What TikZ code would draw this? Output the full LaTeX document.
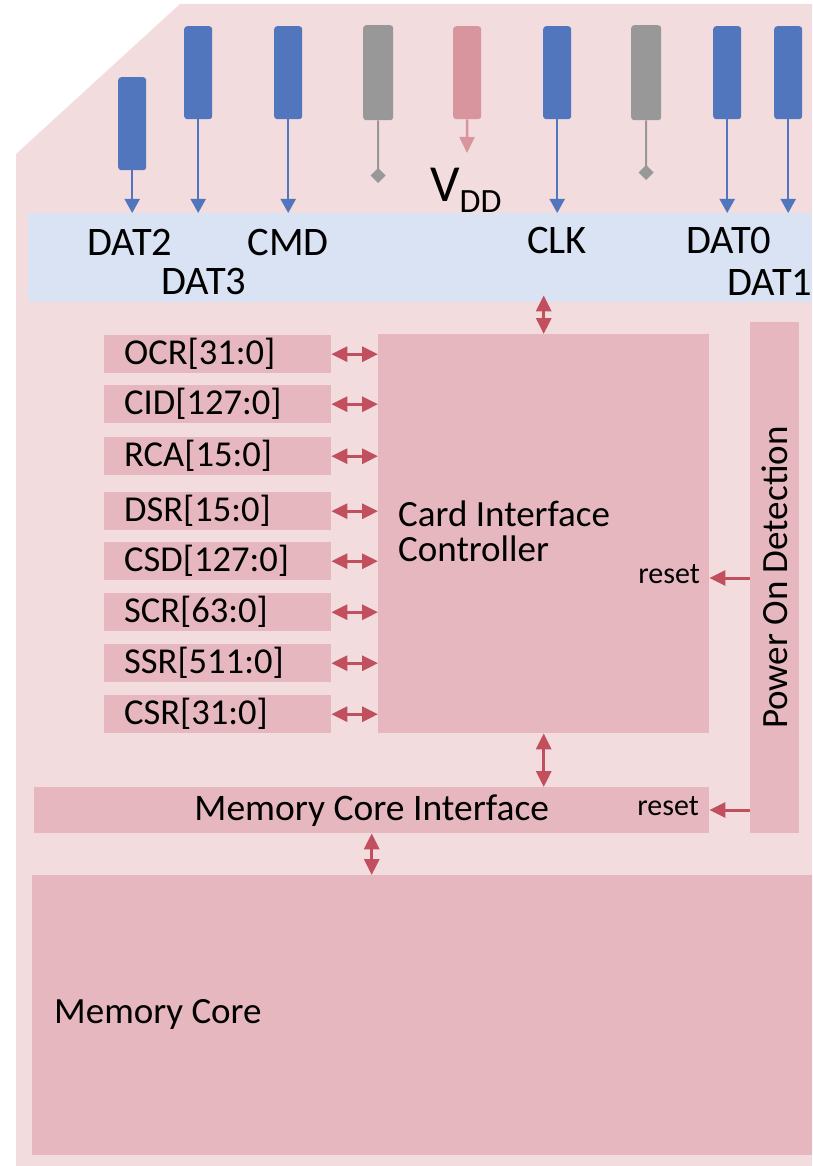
\documentclass[tikz,border=0pt]{standalone}
\usepackage{fontspec}
\setmainfont{Carlito}
\usetikzlibrary{arrows.meta,calc}
\definecolor{cardbg}{HTML}{F2DCDE}
\definecolor{bandbg}{HTML}{DAE3F3}
\definecolor{boxbg}{HTML}{E6B7BE}
\definecolor{pinblue}{HTML}{5176BD}
\definecolor{pingray}{HTML}{989898}
\definecolor{pinpink}{HTML}{D9959D}
\definecolor{arrred}{HTML}{C24F5E}
\begin{document}
\begin{tikzpicture}[x=1pt,y=-1pt,
  box/.style={fill=boxbg, draw=none, inner sep=0pt, anchor=north west},
  reg/.style={box, minimum height=38pt, text width=187pt, inner xsep=20pt, inner ysep=0pt, align=left, font=\fontsize{36.5}{36}\selectfont},
  pinbox/.style={rounded corners=3pt, inner sep=0pt, anchor=north west, minimum width=28pt, minimum height=93pt, fill=pinblue, draw=none},
  graypin/.style={pinbox, fill=pingray, minimum width=30pt, minimum height=95pt},
  pinkpin/.style={pinbox, fill=pinpink},
  bluearrow/.style={draw=pinblue, line width=2pt, -{Triangle[length=14pt,width=15pt]}},
  grayline/.style={draw=pingray, line width=2pt, -{Diamond[length=15pt,width=15pt]}},
  pinkarrow/.style={draw=pinpink, line width=2.5pt, -{Triangle[length=16pt,width=15pt]}},
  redarrow/.style={draw=arrred, line width=3pt, {Triangle[length=16pt,width=15pt]}-{Triangle[length=16pt,width=15pt]}},
  resetarrow/.style={draw=arrred, line width=3pt, -{Triangle[length=16pt,width=15pt]}},
  pinlabel/.style={anchor=base, inner sep=0pt, font=\fontsize{40.5}{40}\selectfont},
  bigtext/.style={font=\fontsize{37}{35}\selectfont, inner sep=0pt},
  resettext/.style={anchor=base east, inner sep=0pt, font=\fontsize{30}{30}\selectfont}
]
\useasboundingbox (0,0) rectangle (812,1166);
% card outline
\fill[cardbg] (180,4) -- (812,4) -- (812,1166) -- (16,1166) -- (16,154) -- cycle;
% blue band
\node[box, fill=bandbg, minimum width=784pt, minimum height=89pt] (band) at (28,213) {};
% pins
\node[pinbox] (p2) at (118,77) {};
\node[pinbox] (p3) at (184,26) {};
\node[pinbox] (pcmd) at (274,26) {};
\node[graypin] (g1) at (363,25) {};
\node[pinkpin] (pvdd) at (453,26) {};
\node[pinbox] (pclk) at (543,26) {};
\node[graypin] (g2) at (631,25) {};
\node[pinbox] (p0) at (713,26) {};
\node[pinbox] (p1) at (774,26) {};
\foreach \p in {p2,p3,pcmd,pclk,p0,p1}{
  \draw[bluearrow] (\p.south) -- (\p.south |- band.north);
}
\coordinate (g1end) at (378,183);
\coordinate (g2end) at (646,180);
\draw[grayline] (g1.south) -- (g1end);
\draw[grayline] (g2.south) -- (g2end);
\coordinate (vddend) at (467,153);
\draw[pinkarrow] (pvdd.south) -- (vddend);
% pin labels
\node[pinlabel] (l2) at (130,255) {DAT2};
\node[pinlabel] (l3) at (204,294) {DAT3};
\node[pinlabel] (lcmd) at (288,255) {CMD};
\node[pinlabel] (lclk) at (557,253) {CLK};
\node[pinlabel] (l0) at (729,253) {DAT0};
\node[pinlabel] (l1) at (770,295) {DAT1};
\node[anchor=base west, inner sep=0pt] (lvdd) at (430,202) {\fontsize{52}{52}\selectfont V\raisebox{-11pt}{\fontsize{34}{34}\selectfont DD}};
% main blocks
\node[box, minimum width=331pt, minimum height=399pt] (cic) at (378,334) {};
\node[box, minimum width=49pt, minimum height=511pt] (pod) at (750,322) {};
\node[box, minimum width=675pt, minimum height=46pt, bigtext, font=\fontsize{37.5}{35}\selectfont] (mci) at (34,787) {Memory Core Interface};
\node[box, minimum width=780pt, minimum height=280pt] (mc) at (32,875) {};
\node[bigtext, anchor=west, align=left] (cictext) at (398,531) {Card Interface\\Controller};
\node[bigtext, rotate=90] (podtext) at (pod.center) {Power On Detection};
\node[bigtext, anchor=base west] (mctext) at (54,1023) {Memory Core};
\node[resettext] (r1) at (700,583) {reset};
\node[resettext] (r2) at (699,815) {reset};
% registers
\node[reg] (ocr) at (104,335) {OCR[31:0]};
\node[reg] (cid) at (104,385) {CID[127:0]};
\node[reg] (rca) at (104,437) {RCA[15:0]};
\node[reg] (dsr) at (104,492) {DSR[15:0]};
\node[reg] (csd) at (104,542) {CSD[127:0]};
\node[reg] (scr) at (104,593) {SCR[63:0]};
\node[reg] (ssr) at (104,644) {SSR[511:0]};
\node[reg] (csr) at (104,695) {CSR[31:0]};
\foreach \r in {ocr,cid,rca,dsr,csd,scr,ssr,csr}{
  \draw[redarrow] (\r.east) -- (\r.east -| cic.west);
}
% connectors
\draw[redarrow] ($(band.south -| cic.north)+(0,-7)$) -- (cic.north);
\draw[redarrow] (cic.south) -- (mci.north -| cic.south);
\draw[redarrow] (mci.south) -- (mc.north -| mci.south);
\draw[resetarrow] (pod.west |- 0,578) -- (cic.east |- 0,578);
\draw[resetarrow] (pod.west |- 0,810) -- (mci.east |- 0,810);
\end{tikzpicture}
\end{document}
